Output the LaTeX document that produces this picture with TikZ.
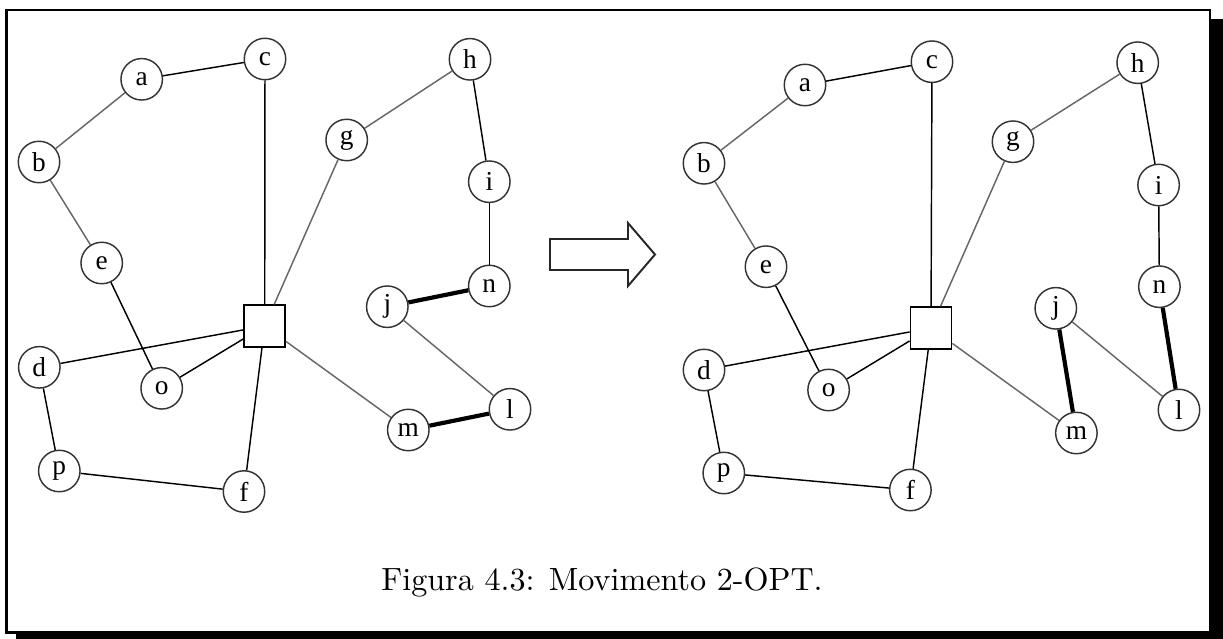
\documentclass[tikz,border=0pt]{standalone}
\usepackage{fontspec}
\newfontfamily\vertfont{Liberation Serif}
\usetikzlibrary{arrows, arrows.meta}

\tikzset{
	vert/.style={circle, draw=black!80, line width=0.45pt, minimum size=12.9pt, inner sep=0pt, font=\vertfont\fontsize{8.5}{9}\selectfont},
	depot/.style={rectangle, draw, line width=0.5pt, minimum width=12.8pt, minimum height=13pt, inner sep=0pt},
	link/.style={line width=0.45pt},
	faintlink/.style={line width=0.45pt, draw=black!60},
	optlink/.style={line width=1.3pt},
}

\begin{document}
\begin{tikzpicture}[x=0.311pt, y=-0.311pt]
				\useasboundingbox (0,0) rectangle (1223,639);
				% frame with shadow
				\fill[black] (16,19) rectangle (1223,639);
				\filldraw[fill=white, line width=0.85pt] (6.5,10) rectangle (1210,632.5);
				% left tour
				\node[vert](La) at (141.7,79.3){a};
				\node[vert](Lc) at (265,59){c};
				\node[vert](Lb) at (39,162){b};
				\node[vert](Le) at (101.7,263){e};
				\node[vert](Lh) at (470,59.3){h};
				\node[vert](Lg) at (346.7,140){g};
				\node[vert](Li) at (489.3,181.7){i};
				\node[vert](Ln) at (489.3,286){n};
				\node[vert](Lj) at (387.3,306.7){j};
				\node[depot](Ls) at (264.7,326){};
				\node[vert](Ld) at (39.3,367.3){d};
				\node[vert](Lo) at (161.7,388.3){o};
				\node[vert](Ll) at (510,409.3){l};
				\node[vert](Lm) at (408.3,430){m};
				\node[vert](Lp) at (59.3,471){p};
				\node[vert](Lf) at (244,491.5){f};
				\draw[link] (La) -- (Lc);
				\draw[faintlink] (La) -- (Lb);
				\draw[faintlink] (Lb) -- (Le);
				\draw[link] (Le) -- (Lo);
				\draw[link] (Lo) -- (Ls);
				\draw[link] (Ld) -- (Ls);
				\draw[link] (Ld) -- (Lp);
				\draw[link] (Lp) -- (Lf);
				\draw[link] (Lf) -- (Ls);
				\draw[link] (Ls) -- (Lc);
				\draw[faintlink] (Ls) -- (Lg);
				\draw[faintlink] (Lg) -- (Lh);
				\draw[link] (Lh) -- (Li);
				\draw[link] (Li) -- (Ln);
				\draw[optlink] (Ln) -- (Lj);
				\draw[faintlink] (Lj) -- (Ll);
				\draw[optlink] (Ll) -- (Lm);
				\draw[faintlink] (Lm) -- (Ls);
				% arrow
				\draw[line width=0.6pt, draw=black!85] (550,239) -- (628,239) -- (628,223) -- (655,254.5) -- (628,286) -- (628,270) -- (550,270) -- cycle;
				% right tour
				\node[vert](Ra) at (805,85){a};
				\node[vert](Rc) at (932,61.7){c};
				\node[vert](Rb) at (704,163.3){b};
				\node[vert](Re) at (766,266.7){e};
				\node[vert](Rh) at (1137.7,62.7){h};
				\node[vert](Rg) at (1013,141.7){g};
				\node[vert](Ri) at (1158.6,185){i};
				\node[vert](Rn) at (1159.4,286.7){n};
				\node[vert](Rj) at (1055.8,308.3){j};
				\node[depot](Rs) at (931,328){};
				\node[vert](Rd) at (704,370){d};
				\node[vert](Ro) at (828.6,390){o};
				\node[vert](Rl) at (1179,410){l};
				\node[vert](Rm) at (1076.4,433){m};
				\node[vert](Rp) at (723.8,473){p};
				\node[vert](Rf) at (910.4,490){f};
				\draw[link] (Ra) -- (Rc);
				\draw[faintlink] (Ra) -- (Rb);
				\draw[faintlink] (Rb) -- (Re);
				\draw[link] (Re) -- (Ro);
				\draw[link] (Ro) -- (Rs);
				\draw[link] (Rd) -- (Rs);
				\draw[link] (Rd) -- (Rp);
				\draw[link] (Rp) -- (Rf);
				\draw[link] (Rf) -- (Rs);
				\draw[link] (Rs) -- (Rc);
				\draw[faintlink] (Rs) -- (Rg);
				\draw[faintlink] (Rg) -- (Rh);
				\draw[link] (Rh) -- (Ri);
				\draw[link] (Ri) -- (Rn);
				\draw[optlink] (Rn) -- (Rl);
				\draw[faintlink] (Rj) -- (Rl);
				\draw[optlink] (Rj) -- (Rm);
				\draw[faintlink] (Rm) -- (Rs);
				% caption
				\node[anchor=base](caption) at (602,590){Figura 4.3: Movimento 2-OPT.};
			\end{tikzpicture}
\end{document}
